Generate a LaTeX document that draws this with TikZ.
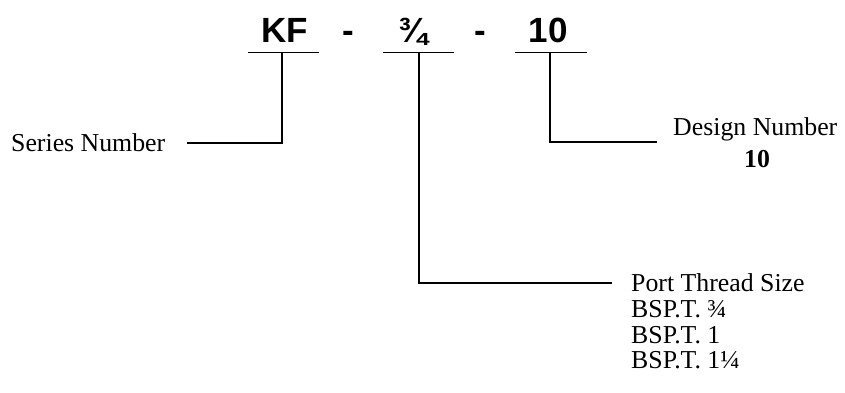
\documentclass[tikz,border=0pt]{standalone}
\usepackage{fontspec}
\setmainfont{Liberation Serif}
\newfontfamily\codefont{Liberation Sans}
\tikzset{
  code/.style={inner sep=0pt, anchor=base, font=\codefont\bfseries\fontsize{35}{40}\selectfont},
  lbl/.style={inner sep=0pt, anchor=base west, font=\fontsize{25.8}{26}\selectfont},
  ln/.style={line width=1.3pt},
}
\begin{document}
\begin{tikzpicture}[x=1pt,y=-1pt]
\useasboundingbox (0,0) rectangle (845,392);
% code text
\node[code] (kf) at (285,42) {KF};
\node[code] (d1) at (348,42) {-};
\node[code] (q) at (413,42) {¾};
\node[code] (d2) at (480,42) {-};
\node[code] (ten) at (548,42) {10};
% underlines
\coordinate (u1a) at (248,52.5); \coordinate (u1b) at (319,52.5);
\coordinate (u2a) at (383,52.5); \coordinate (u2b) at (454,52.5);
\coordinate (u3a) at (515,52.5); \coordinate (u3b) at (587,52.5);
\draw[ln] (u1a) -- (u1b);
\draw[ln] (u2a) -- (u2b);
\draw[ln] (u3a) -- (u3b);
% stems
\coordinate (s1) at (282,52.5);
\coordinate (s2) at (419,52.5);
\coordinate (s3) at (550,52.5);
% labels
\node[lbl] (series) at (11,151) {Series Number};
\node[lbl] (design) at (673,135) {Design Number};
\node[lbl, anchor=base, font=\bfseries\fontsize{25.8}{26}\selectfont] (dnum) at (757,167) {10};
\node[lbl] (port) at (631,291) {Port Thread Size};
\node[lbl] (p1) at (631,317) {BSP.T. ¾};
\node[lbl] (p2) at (631,343) {BSP.T. 1};
\node[lbl] (p3) at (631,368) {BSP.T. 1¼};
% connectors
\coordinate (c1a) at (282,143); \coordinate (c1b) at (187,143);
\draw[ln] (s1) -- (c1a) -- (c1b);
\coordinate (c3a) at (550,142); \coordinate (c3b) at (657,142);
\draw[ln] (s3) -- (c3a) -- (c3b);
\coordinate (c2a) at (419,283); \coordinate (c2b) at (612,283);
\draw[ln] (s2) -- (c2a) -- (c2b);
\end{tikzpicture}
\end{document}
